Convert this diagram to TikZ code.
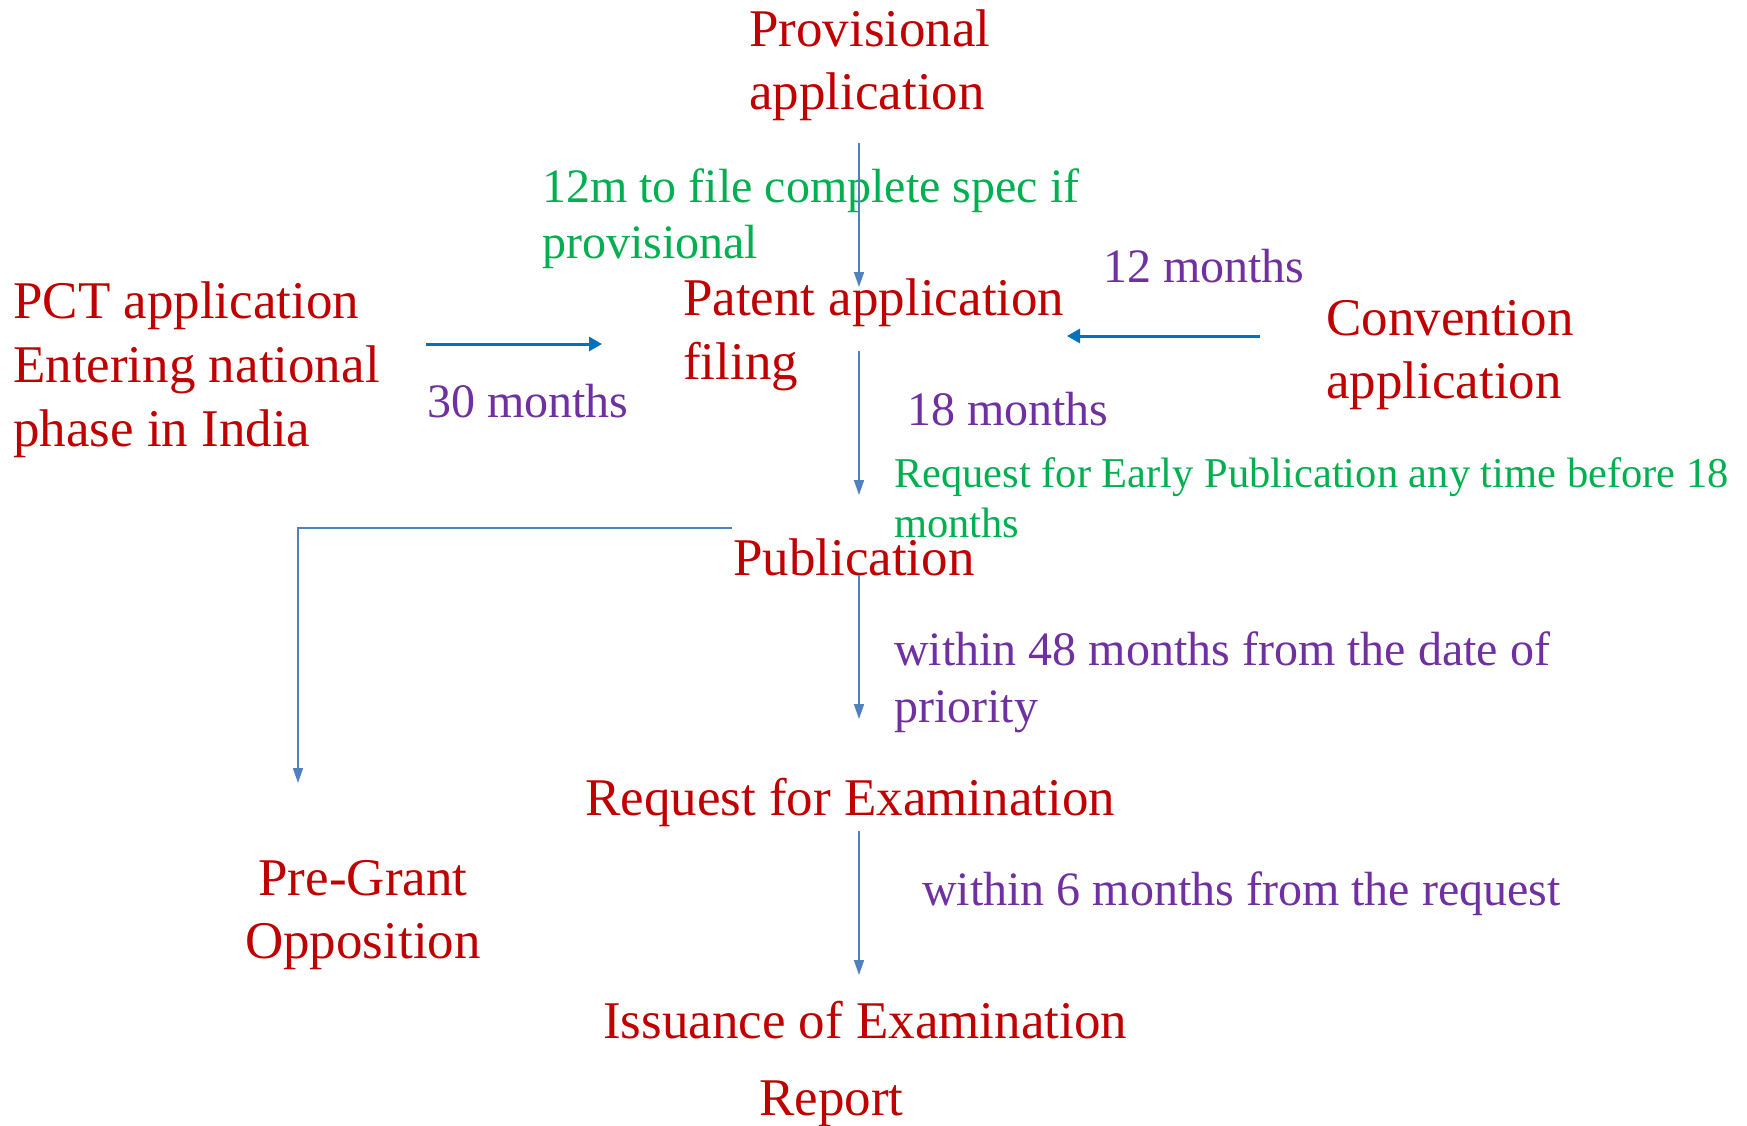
\documentclass[tikz,border=0pt]{standalone}
\usepackage{fontspec}
\setmainfont{Liberation Serif}
\usetikzlibrary{arrows.meta}
\definecolor{tred}{HTML}{C00000}
\definecolor{tgreen}{HTML}{00B050}
\definecolor{tpurple}{HTML}{7030A0}
\definecolor{vblue}{HTML}{4F81BD}
\definecolor{hblue}{HTML}{0070C0}
\begin{document}
\begin{tikzpicture}[x=1pt,y=-1pt,
  lbl/.style={inner sep=0pt, anchor=base west},
  redtxt/.style={lbl, text=tred, font=\fontsize{53}{64}\selectfont},
  greentxt/.style={lbl, text=tgreen, font=\fontsize{48}{56}\selectfont},
  greensmall/.style={lbl, text=tgreen, font=\fontsize{42.5}{50}\selectfont},
  purpletxt/.style={lbl, text=tpurple, font=\fontsize{48}{56}\selectfont},
  varrow/.style={draw=vblue, line width=1.6pt, -{Triangle[length=15pt,width=10pt]}},
  harrow/.style={draw=hblue, line width=3pt, -{Triangle[length=13pt,width=14pt]}}
]
\useasboundingbox[fill=white] (0,0) rectangle (1747,1126);

% red nodes
\node[redtxt] (prov1) at (749,47) {Provisional};
\node[redtxt] (prov2) at (749,110) {application};
\node[redtxt] (pct1) at (13,318) {PCT application};
\node[redtxt] (pct2) at (13,382) {Entering national};
\node[redtxt] (pct3) at (13,446) {phase in India};
\node[redtxt] (pat1) at (683,315) {Patent application};
\node[redtxt] (pat2) at (683,379) {filing};
\node[redtxt] (conv1) at (1326,335) {Convention};
\node[redtxt] (conv2) at (1326,398) {application};
\node[redtxt] (pub) at (733,575) {Publication};
\node[redtxt] (rfe) at (585,815) {Request for Examination};
\node[redtxt, anchor=base] (pg1) at (363,895) {Pre-Grant};
\node[redtxt, anchor=base] (pg2) at (363,958) {Opposition};
\node[redtxt] (iss) at (603,1038) {Issuance of Examination};
\node[redtxt] (rep) at (759,1115) {Report};

% green labels
\node[greentxt] (g1) at (542,202) {12m to file complete spec if};
\node[greentxt] (g2) at (542,258) {provisional};
\node[greensmall] (e1) at (894,487) {Request for Early Publication any time before 18};
\node[greensmall] (e2) at (894,537) {months};

% purple labels
\node[purpletxt] (m12) at (1103,282) {12 months};
\node[purpletxt] (m30) at (427,417) {30 months};
\node[purpletxt] (m18) at (907,425) {18 months};
\node[purpletxt] (w48a) at (894,665) {within 48 months from the date of};
\node[purpletxt] (w48b) at (894,722) {priority};
\node[purpletxt] (w6) at (922,905) {within 6 months from the request};

% connector end points
\coordinate (a1s) at (859,143);
\coordinate (a1e) at (859,287);
\coordinate (a2s) at (426,344);
\coordinate (a2e) at (602,344);
\coordinate (a3s) at (1260,336);
\coordinate (a3e) at (1067,336);
\coordinate (a4s) at (859,351);
\coordinate (a4e) at (859,495);
\coordinate (ls) at (732,528);
\coordinate (le) at (298,783);
\coordinate (a5s) at (859,575);
\coordinate (a5e) at (859,719);
\coordinate (a6s) at (859,831);
\coordinate (a6e) at (859,975);

\draw[varrow] (a1s) -- (a1e);
\draw[harrow] (a2s) -- (a2e);
\draw[harrow] (a3s) -- (a3e);
\draw[varrow] (a4s) -- (a4e);
\draw[varrow] (ls) -| (le);
\draw[varrow] (a5s) -- (a5e);
\draw[varrow] (a6s) -- (a6e);
\end{tikzpicture}
\end{document}
